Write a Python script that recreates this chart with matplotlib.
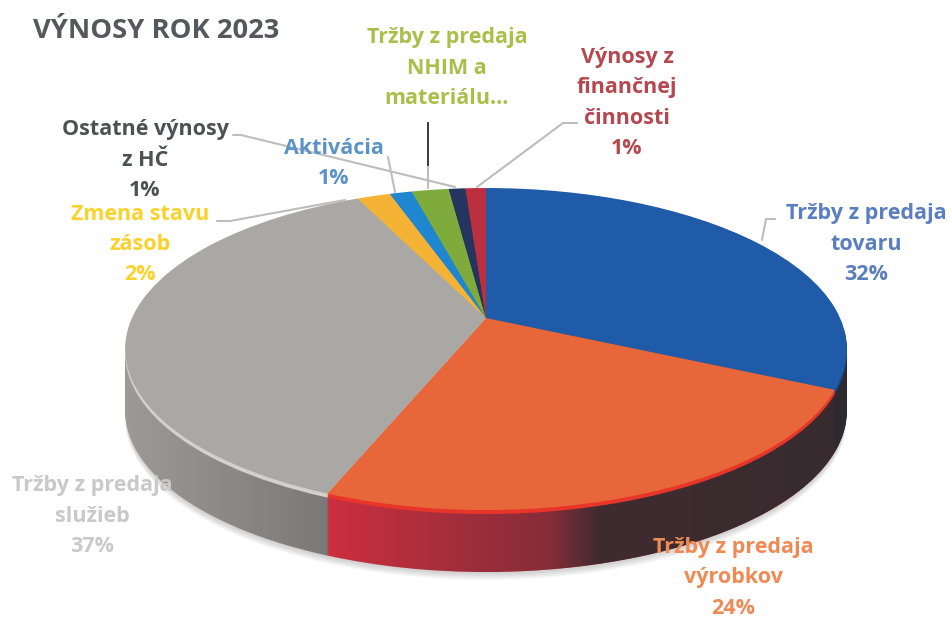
import numpy as np
import matplotlib
matplotlib.use("Agg")
import matplotlib.pyplot as plt
from matplotlib.colors import to_rgb
from matplotlib.path import Path
from matplotlib.transforms import Affine2D, Transform

title = "VÝNOSY ROK 2023"
categories = ["Tržby z predaja\ntovaru", "Tržby z predaja\nvýrobkov", "Tržby z predaja\nslužieb",
              "Zmena stavu\nzásob", "Aktivácia", "Tržby z predaja\nNHIM a\nmateriálu...",
              "Ostatné výnosy\nz HČ", "Výnosy z\nfinančnej\nčinnosti"]
values = [32.0, 24.0, 37.0, 1.8, 1.2, 2.0, 0.9, 1.1]
percent_labels = ["32%", "24%", "37%", "2%", "1%", "", "1%", "1%"]
top_colors = ["#1f5ba8", "#e8673a", "#aaa8a5", "#f5b335", "#1f87d0", "#7fab3d", "#25355f", "#bb2f3e"]
wall_colors = ["#2b2a30", "#cc2f40", "#9b9a97", "#c08a20", "#16609a", "#5f8029", "#18233f", "#8a2230"]
bevel_colors = ["#17478a", "#e8352a", "#d2d1cd", "#f5b335", "#1f87d0", "#7fab3d", "#25355f", "#bb2f3e"]
text_colors = ["#5a7fbe", "#ef8a55", "#c9c9c9", "#fbd22b", "#5b93c7", "#a8c04a", "#4d5054", "#b5474f"]
label_xy = [(866, 214), (733, 548), (92, 486), (140, 214), (334, 148), (447, 38), (145, 130), (627, 58)]

CX, CY, A, B, K, DEPTH = 486, 318, 354, 155, 0.1925, 62
LINE_H = 30


class Persp(Transform):
    input_dims = output_dims = 2
    has_inverse = False
    is_separable = False

    def transform_non_affine(self, v):
        v = np.asarray(v, float)
        w = 1 + K * v[:, 1]
        return np.column_stack([A * v[:, 0] / w, -B * v[:, 1] / w])


persp = Persp()

fig = plt.figure(figsize=(9.52, 6.18), dpi=100, facecolor="white")
ax = fig.add_axes([0, 0, 1, 1])


def layer(colors, dz, zorder, alpha=None):
    wedges, _ = ax.pie(values, colors=colors, startangle=90, counterclock=False,
                       wedgeprops=dict(linewidth=0, alpha=alpha))
    tr = persp + Affine2D().translate(CX, CY + dz) + ax.transData
    for w in wedges:
        w.set_transform(tr)
        w.set_zorder(zorder)
        w.set_clip_on(False)


# soft shadow under the disc
for dz in range(DEPTH + 8, DEPTH, -1):
    layer(["#808080"] * len(values), dz, 1, alpha=0.05)
# side wall
for dz in range(DEPTH, 3, -1):
    layer(wall_colors, dz, 2)


def rim(dz, t):
    x, y = np.sin(t), np.cos(t)
    w = 1 + K * y
    return np.column_stack([CX + A * x / w, CY + dz - B * y / w])


t = np.linspace(np.radians(75), np.radians(285), 300)
poly = np.vstack([rim(DEPTH, t), rim(0, t[::-1])])
boundary = rim(0, np.array([2 * np.pi * sum(values[:2]) / sum(values)]))[0, 0]
xs = np.linspace(120, 855, 736)
shade = np.where(xs < boundary, np.interp(xs, [125, boundary], [0.0, 0.30]),
                 np.interp(xs, [boundary, 450, 550, 600, 855], [0.0, 0.25, 0.45, 0.90, 0.95]))
rgba = np.zeros((1, xs.size, 4))
rgba[0, :, :3] = to_rgb("#2e2b2e")
rgba[0, :, 3] = shade
im = ax.imshow(rgba, extent=(120, 855, 590, 330), aspect="auto", zorder=3, interpolation="nearest")
im.set_clip_path(Path(poly, closed=True), transform=ax.transData)

# bevel and top face
for dz in range(4, 0, -1):
    layer(bevel_colors, dz, 4)
layer(top_colors, 0, 5)

# leader lines
lc = "#bdbdbd"
leaders = [([233, 241, 455], [135, 135, 187]),
           ([217, 230, 345], [221, 221, 200]),
           ([388, 395], [157, 192]),
           ([428, 428], [165, 188]),
           ([577, 563, 477], [123, 123, 187]),
           ([775, 766, 762], [219, 219, 240])]
for lx, ly in leaders:
    ax.plot(lx, ly, color=lc, lw=1.5, zorder=6, solid_capstyle="round")
ax.plot([428, 428], [123, 165], color="#2a2a2a", lw=1.3, zorder=6)

# labels
for cat, pct, col, (x, y) in zip(categories, percent_labels, text_colors, label_xy):
    lines = cat.split("\n") + ([pct] if pct else [])
    for i, s in enumerate(lines):
        ax.text(x, y + i * LINE_H, s, color=col, ha="center", va="center",
                fontsize=15.5, fontweight="bold", family="Open Sans", zorder=7)
ax.text(33, 31, title, color="#55585c", ha="left", va="center", fontsize=19.7,
        fontweight="bold", family="Open Sans", zorder=7)

ax.set_xlim(0, 952)
ax.set_ylim(618, 0)
ax.set_aspect("auto")
ax.axis("off")
fig.savefig("out.png", dpi=100, facecolor="white")
